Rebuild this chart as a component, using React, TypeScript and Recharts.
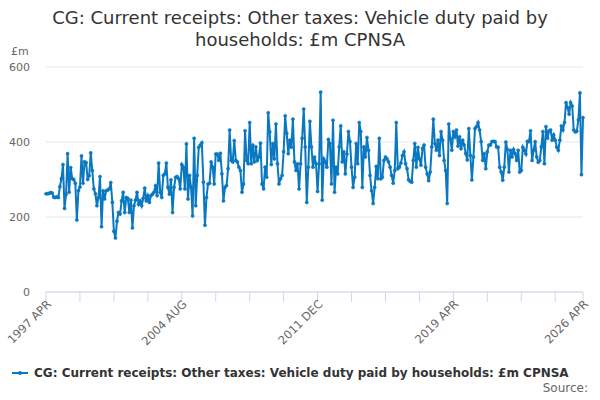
import { LineChart, Line, XAxis, YAxis, CartesianGrid } from "recharts";

const TITLE_LINES = [
  "CG: Current receipts: Other taxes: Vehicle duty paid by",
  "households: £m CPNSA",
];
const SERIES_NAME =
  "CG: Current receipts: Other taxes: Vehicle duty paid by households: £m CPNSA";

const MONTHS = ["JAN", "FEB", "MAR", "APR", "MAY", "JUN", "JUL", "AUG", "SEP", "OCT", "NOV", "DEC"];
const START_YEAR = 1997;
const START_MONTH = 3; // April

// £m, monthly from 1997 APR
const values1997 = [
  262, 262, 263, 265, 264, 253, 252, 254, 252, 281,
  302, 340, 223, 260, 369, 266, 332, 302, 300, 290,
  192, 270, 280, 363, 290, 347, 345, 300, 310, 371,
  324, 275, 262, 230, 252, 308, 174, 270, 248, 270,
  272, 275, 292, 239, 162, 144, 189, 212, 208, 243,
  266, 212, 252, 250, 212, 245, 171, 230, 245, 266,
];
const values2002 = [
  234, 243, 230, 250, 277, 243, 257, 239, 257, 261,
  266, 284, 257, 344, 266, 252, 311, 315, 344, 279,
  261, 299, 212, 279, 306, 308, 302, 275, 340, 333,
  275, 395, 248, 311, 279, 203, 410, 230, 311, 386,
  392, 398, 293, 178, 252, 288, 290, 347, 333, 288,
  368, 368, 351, 370, 315, 243, 279, 284, 329, 432,
];
const values2007 = [
  351, 347, 404, 351, 347, 333, 324, 266, 288, 430,
  351, 342, 452, 342, 392, 347, 387, 351, 360, 397,
  288, 275, 333, 306, 478, 427, 340, 396, 355, 448,
  342, 288, 302, 311, 374, 470, 423, 369, 405, 386,
  461, 347, 324, 342, 275, 342, 410, 488, 387, 239,
  333, 455, 387, 333, 360, 342, 268, 342, 533, 245,
];
const values2012 = [
  355, 347, 333, 407, 396, 288, 458, 266, 333, 315,
  387, 443, 347, 374, 315, 368, 428, 401, 333, 279,
  306, 396, 342, 452, 428, 279, 387, 360, 412, 378,
  311, 270, 236, 279, 335, 302, 410, 302, 306, 351,
  360, 355, 347, 333, 311, 290, 324, 452, 329, 333,
  344, 364, 374, 342, 329, 299, 295, 293, 351, 396,
];
const values2017 = [
  333, 386, 355, 338, 383, 392, 333, 315, 297, 320,
  387, 461, 396, 378, 405, 364, 428, 405, 351, 324,
  236, 448, 410, 378, 428, 414, 432, 389, 414, 382,
  405, 392, 369, 352, 436, 364, 299, 360, 436, 441,
  452, 432, 401, 351, 369, 329, 374, 392, 392, 401,
  402, 401, 387, 386, 333, 320, 298, 333, 400, 380,
];
const values2022 = [
  320, 378, 360, 380, 369, 351, 378, 320, 324, 386,
  378, 368, 402, 401, 430, 351, 378, 401, 360, 346,
  351, 387, 428, 342, 441, 410, 430, 432, 405, 419,
  405, 386, 378, 405, 443, 432, 452, 505, 492, 474,
  505, 496, 432, 427, 429, 459, 531, 313, 465,
];

const Y_TICKS = [0, 200, 400, 600];
const LABELLED_TICKS = ["1997 APR", "2004 AUG", "2011 DEC", "2019 APR", "2026 APR"];
const TICK_STEP = 22;

const COLOR = "#0a78c0";

const allValues = [
  ...values1997,
  ...values2002,
  ...values2007,
  ...values2012,
  ...values2017,
  ...values2022,
];

const data = allValues.map((value, i) => ({
  i,
  label: `${START_YEAR + Math.floor((START_MONTH + i) / 12)} ${MONTHS[(START_MONTH + i) % 12]}`,
  value,
}));

const lastIndex = data.length - 1;
const xTicks = data
  .filter((d) => d.i % TICK_STEP === 0 || d.i === lastIndex)
  .map((d) => d.i);

const FONT = "'DejaVu Sans', Verdana, sans-serif";

const MonthTick = (props: any) => {
  const { x, y, payload } = props;
  const label = data[payload.value]?.label;
  if (!LABELLED_TICKS.includes(label)) return <g />;
  return (
    <g transform={`translate(${x + 3},${y - 2})`}>
      <text
        x={0}
        y={0}
        dy={4}
        transform="rotate(-45)"
        textAnchor="end"
        fill="#666"
        fontSize={11.5}
        fontFamily={FONT}
      >
        {label}
      </text>
    </g>
  );
};

export default function App() {
  return (
    <div
      style={{
        position: "absolute",
        left: 0,
        top: 0,
        width: 600,
        height: 400,
        background: "#fff",
        fontFamily: FONT,
      }}
    >
      <div
        style={{
          position: "absolute",
          top: 7,
          left: 0,
          width: 600,
          textAlign: "center",
          fontSize: 18,
          lineHeight: "22px",
          color: "#333",
        }}
      >
        {TITLE_LINES.map((line) => (
          <div key={line}>{line}</div>
        ))}
      </div>
      <div style={{ position: "absolute", left: 11, top: 45, fontSize: 11, color: "#666" }}>£m</div>

      <div style={{ position: "absolute", left: 0, top: 0 }}>
        <LineChart
          width={600}
          height={400}
          data={data}
          margin={{ top: 67, right: 17, bottom: 48, left: 0 }}
        >
          <CartesianGrid vertical={false} stroke="#e6e6e6" />
          <XAxis
            dataKey="i"
            type="number"
            domain={[0, lastIndex]}
            ticks={xTicks}
            interval={0}
            height={60}
            tick={<MonthTick />}
            tickSize={10}
            axisLine={{ stroke: "#ccd6eb" }}
            tickLine={{ stroke: "#ccd6eb" }}
          />
          <YAxis
            domain={[0, 600]}
            ticks={Y_TICKS}
            width={46}
            axisLine={false}
            tickLine={false}
            tickSize={0}
            tickMargin={16}
            tick={{ fill: "#666", fontSize: 11, fontFamily: FONT }}
          />
          <Line
            type="linear"
            dataKey="value"
            stroke={COLOR}
            strokeWidth={2}
            dot={{ r: 1.6, fill: COLOR, stroke: COLOR, strokeWidth: 0.5 }}
            isAnimationActive={false}
          />
        </LineChart>
      </div>

      <div
        style={{
          position: "absolute",
          left: 12,
          top: 366,
          display: "flex",
          alignItems: "center",
          fontSize: 12,
          fontWeight: "bold",
          color: "#333",
          whiteSpace: "nowrap",
        }}
      >
        <svg width={16} height={12} style={{ marginRight: 6 }}>
          <line x1={0} y1={6} x2={16} y2={6} stroke={COLOR} strokeWidth={2} />
          <circle cx={8} cy={6} r={2} fill={COLOR} />
        </svg>
        <span>{SERIES_NAME}</span>
      </div>
      <div
        style={{
          position: "absolute",
          right: 12,
          top: 381,
          fontSize: 12,
          color: "#666",
        }}
      >
        Source:
      </div>
    </div>
  );
}
